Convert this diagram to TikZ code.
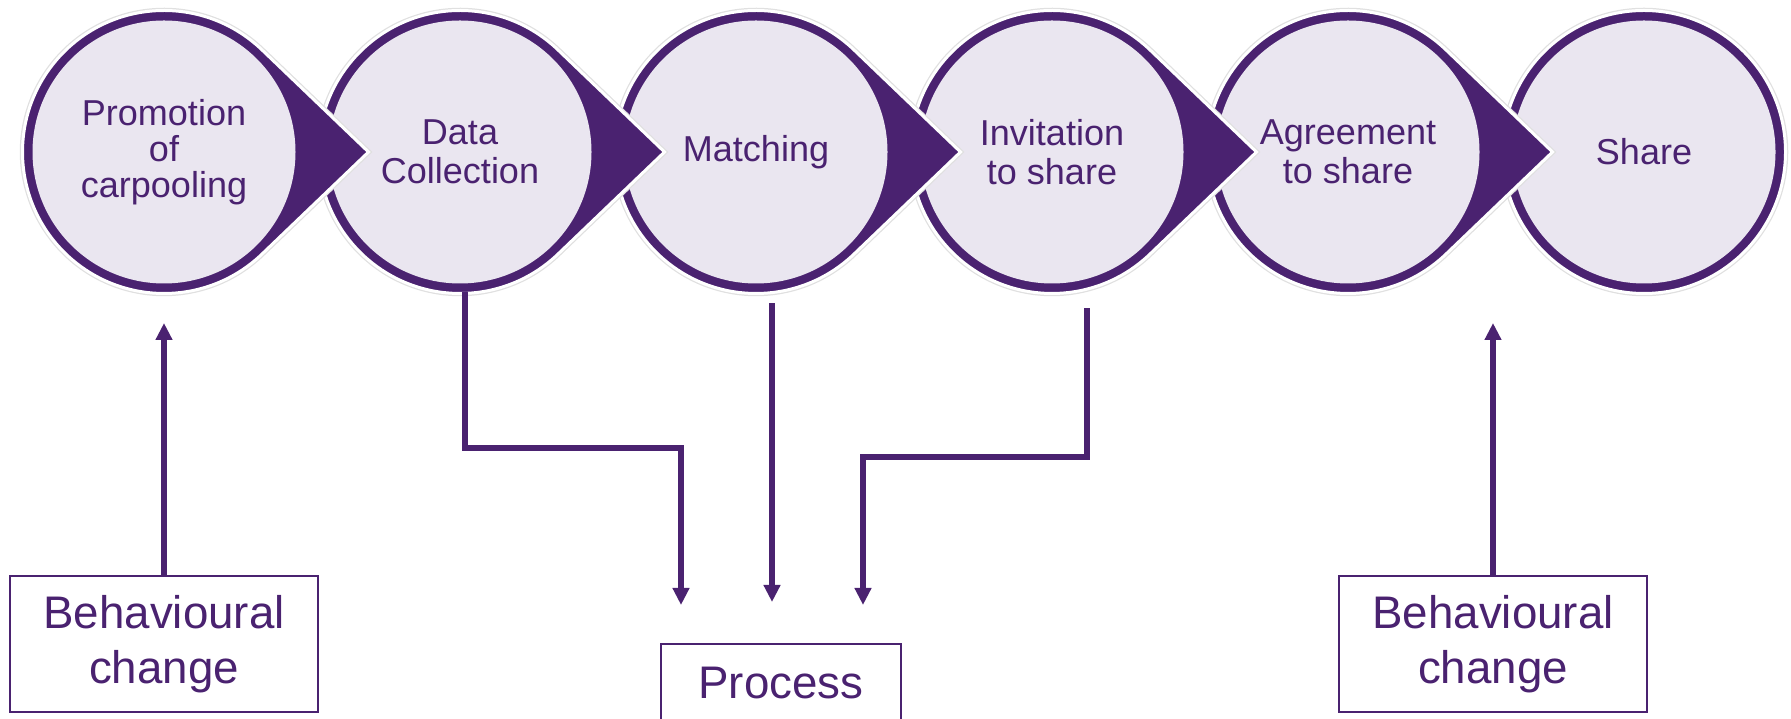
\documentclass[tikz,border=0pt]{standalone}
\usepackage{fontspec}
\setmainfont{Liberation Sans}
\usepackage{tikz}
\usetikzlibrary{arrows.meta,calc}

\definecolor{ringc}{RGB}{74,34,112}
\definecolor{lav}{RGB}{234,230,240}

\tikzset{
  ring/.style={fill=ringc, draw=white, line width=0.06cm, preaction={draw=black!12, line width=0.11cm}},
  stage/.style={circle, minimum size=5.26cm, inner sep=0pt, fill=lav, text=ringc, align=center, font=\fontsize{20.5}{22}\selectfont},
  box/.style={draw=ringc, line width=0.03cm, text=ringc, align=center, font=\fontsize{26}{31.5}\selectfont},
  flow/.style={draw=ringc, line width=0.11cm, -{Triangle[width=0.32cm,length=0.34cm]}}
}

\begin{document}
\begin{tikzpicture}
\useasboundingbox (0,0) rectangle (35.82,14.38);
% stages, drawn from right to left
\filldraw[ring] (32.88,11.34) circle [radius=2.83];
\node[stage] (share) at (32.88,11.34) {Share};
\foreach \n/\x/\txt in {agree/26.96/{Agreement\\to share}, invite/21.04/{Invitation\\to share}, match/15.12/Matching, data/9.2/{Data\\Collection}, promo/3.28/{Promotion\\[-1.5pt]of\\[-1.5pt]carpooling}}{
  \filldraw[ring] (\x+4.09,11.34) -- ([shift={(\x,11.34)}]46.2:2.83) arc [start angle=46.2, end angle=313.8, radius=2.83] -- cycle;
  \node[stage] (\n) at (\x,11.34) {\txt};
}
% boxes
\node[box, minimum width=6.16cm, minimum height=2.72cm] (bc1) at (3.28,1.5) {Behavioural\\change};
\node[box, minimum width=6.16cm, minimum height=2.72cm] (bc2) at (29.86,1.5) {Behavioural\\change};
\node[box, minimum width=4.8cm, minimum height=1.58cm] (proc) at (15.62,0.71) {Process};
% arrow ends and bends
\coordinate (t1) at (3.28,7.92);
\coordinate (t2) at (29.86,7.92);
\coordinate (d1) at (9.3,5.42);
\coordinate (i1) at (21.74,5.24);
\coordinate (p1) at (13.62,2.28);
\coordinate (p2) at (15.44,2.34);
\coordinate (p3) at (17.26,2.28);
\draw[flow] (bc1.north) -- (t1);
\draw[flow] (bc2.north) -- (t2);
\draw[flow] ($(data.south -| d1)+(0,-0.17)$) -- (d1) -| (p1);
\draw[flow] ($(match.south -| p2)+(0,-0.39)$) -- (p2);
\draw[flow] ($(invite.south -| i1)+(0,-0.49)$) -- (i1) -| (p3);
\end{tikzpicture}
\end{document}
